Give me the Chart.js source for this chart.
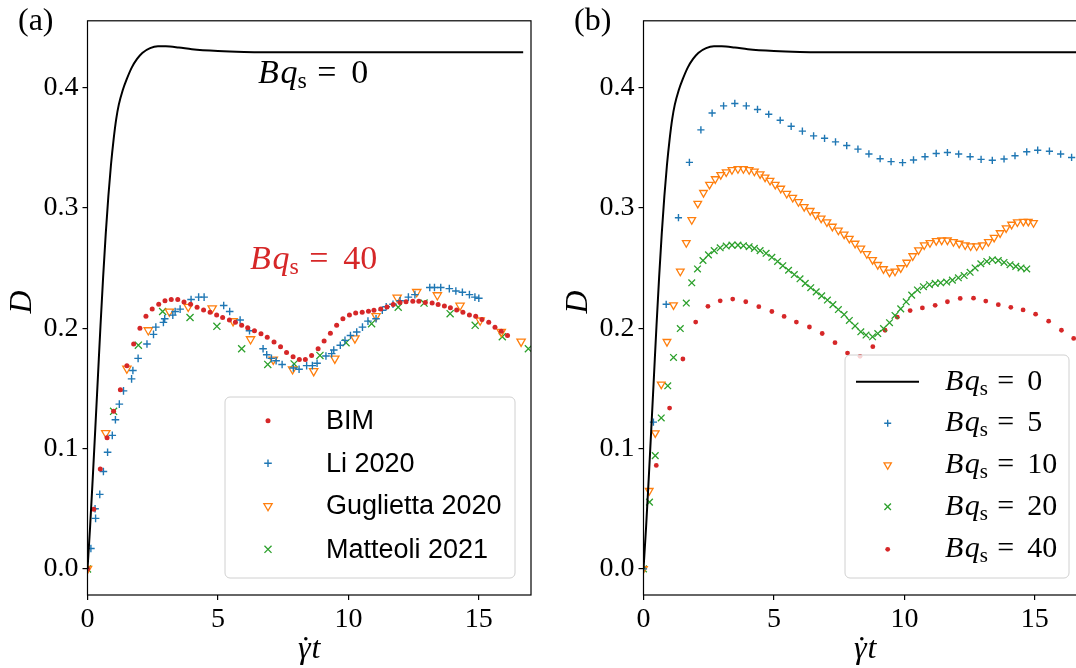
<!DOCTYPE html>
<html>
<head>
<meta charset="utf-8">
<script src="https://cdn.jsdelivr.net/npm/chart.js@4.4.1/dist/chart.umd.min.js"></script>
<style>
  html, body { margin: 0; padding: 0; background: #fff; overflow: hidden; }
  #wrap { position: relative; width: 1076px; height: 668px; overflow: hidden; }
  canvas { position: absolute; top: 0; }
  #c1 { left: 0; }
  #c2 { left: 556px; }
</style>
</head>
<body>
<div id="wrap">
  <canvas id="c1" width="545" height="668"></canvas>
  <canvas id="c2" width="545" height="668"></canvas>
</div>
<script>
// Drop deformation D vs strain (gamma-dot t)

// clean interface, Bq_s = 0 (solid line, both panels)
const cleanT = [0, 0.1, 0.2, 0.3, 0.4, 0.5, 0.6, 0.7, 0.8, 0.9, 1.0, 1.1, 1.2, 1.35, 1.5, 1.7, 1.9, 2.1, 2.4, 2.7, 3.0, 3.5, 4.0, 5.0, 6.0, 8.0, 10.0, 13.0, 16.7];
const cleanD = [0, 0.035, 0.075, 0.117, 0.16, 0.203, 0.243, 0.279, 0.31, 0.336, 0.357, 0.374, 0.386, 0.398, 0.407, 0.417, 0.424, 0.429, 0.433, 0.4345, 0.4345, 0.4335, 0.432, 0.4305, 0.4298, 0.4295, 0.4295, 0.4295, 0.4295];

// panel (a): Bq_s = 40, BIM against literature
const bimT = [0, 0.24, 0.49, 0.75, 1.0, 1.26, 1.51, 1.77, 2.01, 2.24, 2.48, 2.73, 2.97, 3.21, 3.46, 3.70, 3.95, 4.20, 4.45, 4.70, 4.95, 5.18, 5.44, 5.67, 5.91, 6.14, 6.40, 6.65, 6.89, 7.15, 7.40, 7.63, 7.88, 8.12, 8.35, 8.59, 8.84, 9.07, 9.31, 9.55, 9.79, 10.04, 10.28, 10.53, 10.77, 10.98, 11.24, 11.48, 11.72, 11.98, 12.21, 12.47, 12.70, 12.95, 13.21, 13.44, 13.68, 13.91, 14.15, 14.39, 14.64, 14.88, 15.12, 15.38, 15.62, 15.86, 16.10];
const bimD = [0, 0.0495, 0.083, 0.109, 0.131, 0.149, 0.169, 0.187, 0.200, 0.210, 0.216, 0.220, 0.223, 0.224, 0.224, 0.222, 0.220, 0.2175, 0.2153, 0.2134, 0.211, 0.209, 0.207, 0.205, 0.2025, 0.2006, 0.198, 0.1955, 0.1925, 0.1886, 0.1846, 0.180, 0.1764, 0.174, 0.1742, 0.1775, 0.183, 0.1895, 0.196, 0.2025, 0.2079, 0.2112, 0.2128, 0.2134, 0.2142, 0.215, 0.216, 0.2177, 0.2199, 0.2215, 0.2221, 0.2226, 0.2226, 0.2215, 0.221, 0.2199, 0.2185, 0.2172, 0.2153, 0.2134, 0.2112, 0.2101, 0.2074, 0.205, 0.2009, 0.1976, 0.1941];

const liT = [0.13, 0.29, 0.31, 0.47, 0.61, 0.77, 0.95, 1.07, 1.22, 1.38, 1.69, 1.74, 1.94, 2.28, 2.53, 2.62, 2.91, 2.96, 3.27, 3.36, 3.55, 3.97, 4.26, 4.47, 5.22, 5.45, 5.85, 6.21, 6.73, 6.87, 7.05, 7.23, 7.46, 7.89, 8.11, 8.40, 8.62, 8.80, 9.14, 9.36, 9.44, 9.69, 9.87, 10.08, 10.32, 10.54, 10.75, 11.06, 11.30, 11.45, 11.71, 11.98, 12.30, 12.55, 13.12, 13.30, 13.54, 13.87, 14.12, 14.37, 14.64, 14.85, 15.00];
const liD = [0.017, 0.050, 0.042, 0.062, 0.081, 0.097, 0.111, 0.124, 0.137, 0.148, 0.158, 0.165, 0.175, 0.187, 0.195, 0.201, 0.205, 0.208, 0.211, 0.214, 0.216, 0.224, 0.226, 0.226, 0.219, 0.214, 0.207, 0.198, 0.183, 0.178, 0.175, 0.173, 0.170, 0.167, 0.166, 0.169, 0.169, 0.171, 0.177, 0.179, 0.182, 0.186, 0.190, 0.194, 0.197, 0.201, 0.206, 0.208, 0.215, 0.218, 0.220, 0.223, 0.226, 0.228, 0.234, 0.234, 0.234, 0.233, 0.231, 0.230, 0.228, 0.226, 0.225];

const gugT = [0, 0.70, 1.51, 2.33, 3.14, 3.86, 4.78, 5.58, 6.25, 7.12, 7.86, 8.67, 9.48, 10.25, 11.06, 11.87, 12.62, 13.41, 14.28, 15.05, 15.86, 16.62];
const gugD = [0, 0.113, 0.1666, 0.1985, 0.214, 0.218, 0.2167, 0.206, 0.191, 0.174, 0.166, 0.1645, 0.1749, 0.1917, 0.2102, 0.2257, 0.2303, 0.2276, 0.2189, 0.2066, 0.1971, 0.189];

const matT = [0, 1.0, 1.95, 2.88, 3.93, 4.96, 5.91, 6.91, 7.92, 8.91, 9.91, 10.89, 11.91, 12.90, 13.90, 14.86, 15.90, 16.90];
const matD = [0, 0.131, 0.186, 0.214, 0.209, 0.2017, 0.183, 0.170, 0.1704, 0.1775, 0.1881, 0.2039, 0.2175, 0.221, 0.2122, 0.2025, 0.193, 0.183];

// panel (b): BIM for increasing Bq_s
const bq5T = [0, 0.38, 0.87, 1.34, 1.76, 2.20, 2.63, 3.07, 3.50, 3.94, 4.37, 4.80, 5.24, 5.66, 6.09, 6.52, 6.94, 7.36, 7.79, 8.22, 8.64, 9.07, 9.49, 9.93, 10.35, 10.79, 11.22, 11.65, 12.08, 12.52, 12.94, 13.37, 13.82, 14.24, 14.69, 15.11, 15.56, 15.99, 16.41];
const bq5D = [0, 0.122, 0.220, 0.292, 0.338, 0.365, 0.379, 0.385, 0.387, 0.385, 0.382, 0.378, 0.373, 0.368, 0.364, 0.360, 0.358, 0.355, 0.352, 0.349, 0.345, 0.341, 0.3386, 0.3378, 0.340, 0.3427, 0.3454, 0.3462, 0.3449, 0.3427, 0.3405, 0.3397, 0.3408, 0.3435, 0.3468, 0.3481, 0.3473, 0.3449, 0.3421];

const bq10T = [0, 0.22, 0.45, 0.68, 0.90, 1.15, 1.41, 1.64, 1.85, 2.08, 2.30, 2.53, 2.75, 2.96, 3.17, 3.39, 3.62, 3.83, 4.05, 4.25, 4.47, 4.66, 4.85, 5.05, 5.26, 5.49, 5.72, 5.94, 6.16, 6.39, 6.60, 6.81, 7.03, 7.24, 7.47, 7.69, 7.89, 8.11, 8.33, 8.56, 8.78, 8.98, 9.20, 9.43, 9.64, 9.86, 10.09, 10.32, 10.54, 10.76, 10.98, 11.22, 11.43, 11.65, 11.88, 12.10, 12.33, 12.54, 12.77, 12.99, 13.22, 13.44, 13.67, 13.90, 14.11, 14.33, 14.56, 14.75, 14.95];
const bq10D = [0, 0.065, 0.113, 0.1535, 0.1889, 0.2194, 0.2474, 0.2711, 0.2902, 0.3038, 0.3128, 0.3196, 0.3242, 0.3277, 0.3299, 0.3318, 0.3326, 0.3326, 0.3318, 0.3305, 0.3283, 0.3256, 0.3228, 0.3196, 0.3163, 0.312, 0.3087, 0.3052, 0.3011, 0.2978, 0.2943, 0.2915, 0.2883, 0.2847, 0.2815, 0.2782, 0.2747, 0.2706, 0.2665, 0.2619, 0.257, 0.2529, 0.2494, 0.2466, 0.2474, 0.2502, 0.2548, 0.2602, 0.2651, 0.2692, 0.2711, 0.2728, 0.2733, 0.2733, 0.2719, 0.2706, 0.2692, 0.2684, 0.2684, 0.2692, 0.2719, 0.2755, 0.2793, 0.2834, 0.2864, 0.2883, 0.2888, 0.2888, 0.2877];

const bq20T = [0, 0.23, 0.45, 0.68, 0.93, 1.15, 1.41, 1.64, 1.85, 2.07, 2.28, 2.49, 2.71, 2.94, 3.17, 3.39, 3.62, 3.83, 4.05, 4.25, 4.47, 4.70, 4.92, 5.14, 5.34, 5.56, 5.78, 6.00, 6.20, 6.41, 6.62, 6.83, 7.05, 7.26, 7.47, 7.69, 7.89, 8.11, 8.33, 8.53, 8.78, 8.98, 9.20, 9.43, 9.64, 9.86, 10.07, 10.28, 10.50, 10.73, 10.96, 11.18, 11.39, 11.62, 11.84, 12.07, 12.29, 12.52, 12.71, 12.93, 13.16, 13.37, 13.60, 13.82, 14.05, 14.27, 14.47, 14.69];
const bq20D = [0, 0.0555, 0.0942, 0.1255, 0.1522, 0.1758, 0.1998, 0.221, 0.2379, 0.2494, 0.2564, 0.2611, 0.2646, 0.267, 0.2684, 0.2692, 0.2692, 0.2687, 0.2679, 0.2665, 0.2646, 0.2624, 0.2591, 0.2556, 0.2521, 0.2483, 0.2447, 0.2412, 0.2374, 0.2338, 0.2303, 0.227, 0.2235, 0.2197, 0.2156, 0.2115, 0.2066, 0.202, 0.1971, 0.1944, 0.193, 0.1957, 0.1998, 0.2047, 0.2107, 0.2162, 0.2221, 0.2276, 0.2319, 0.2346, 0.2363, 0.2374, 0.2379, 0.2385, 0.2401, 0.242, 0.2439, 0.2466, 0.2502, 0.2537, 0.2556, 0.257, 0.2564, 0.2548, 0.2529, 0.2515, 0.2502, 0.2494];

const bq40T = [0, 0.49, 1.00, 1.51, 2.00, 2.47, 2.94, 3.42, 3.92, 4.42, 4.92, 5.39, 5.86, 6.36, 6.85, 7.34, 7.82, 8.30, 8.79, 9.26, 9.73, 10.22, 10.69, 11.18, 11.65, 12.14, 12.65, 13.12, 13.60, 14.08, 14.55, 15.03, 15.53, 16.02, 16.49];
const bq40D = [0, 0.086, 0.1337, 0.1745, 0.2052, 0.2183, 0.2229, 0.2243, 0.2221, 0.218, 0.214, 0.2099, 0.2052, 0.2011, 0.1957, 0.1881, 0.1794, 0.1767, 0.1848, 0.1984, 0.2093, 0.2148, 0.217, 0.2191, 0.2221, 0.2249, 0.2251, 0.2227, 0.2197, 0.2175, 0.2153, 0.2118, 0.206, 0.1984, 0.1916];

const xTicks = [0, 5, 10, 15];
const yTicks = [0, 0.1, 0.2, 0.3, 0.4];
const litLabels = ['BIM', 'Li 2020', 'Guglietta 2020', 'Matteoli 2021'];
const bqLabels = ['0', '5', '10', '20', '40'];

const BLUE = '#1f77b4', ORANGE = '#ff7f0e', GREEN = '#2ca02c', RED = '#d62728';
const serif = '"Liberation Serif", "Times New Roman", serif';
const sans = '"Liberation Sans", Arial, sans-serif';

const pts = (xs, ys) => xs.map((x, i) => ({ x: x, y: ys[i] }));

// marker look shared by datasets and the hand-drawn legends
const styles = {
  dot:  { pointStyle: 'circle', r: 2.5, lw: 0 },
  plus: { pointStyle: 'cross', r: 3.8, lw: 1.4 },
  tri:  { pointStyle: 'triangle', r: 4.8, lw: 1.3, rot: 180 },
  x:    { pointStyle: 'crossRot', r: 5.0, lw: 1.3 }
};

function markSet(xs, ys, kind, color, r) {
  const s = styles[kind];
  return {
    data: pts(xs, ys),
    showLine: false,
    pointStyle: s.pointStyle,
    pointRadius: r || s.r,
    pointRotation: s.rot || 0,
    pointBorderWidth: s.lw,
    pointBorderColor: color,
    pointBackgroundColor: kind === 'tri' ? 'rgba(255,255,255,0)' : color
  };
}

function lineSet(xs, ys) {
  return {
    data: pts(xs, ys),
    showLine: true,
    borderColor: '#000',
    borderWidth: 2,
    pointRadius: 0,
    cubicInterpolationMode: 'monotone'
  };
}

function marker(ctx, kind, x, y, r, color) {
  const lw = styles[kind].lw;
  ctx.save();
  ctx.strokeStyle = color;
  ctx.fillStyle = color;
  ctx.lineWidth = lw;
  ctx.beginPath();
  if (kind === 'dot') {
    ctx.arc(x, y, r, 0, Math.PI * 2);
    ctx.fill();
  } else if (kind === 'plus') {
    ctx.moveTo(x - r, y); ctx.lineTo(x + r, y);
    ctx.moveTo(x, y - r); ctx.lineTo(x, y + r);
    ctx.stroke();
  } else if (kind === 'x') {
    const d = r * Math.SQRT1_2;
    ctx.moveTo(x - d, y - d); ctx.lineTo(x + d, y + d);
    ctx.moveTo(x - d, y + d); ctx.lineTo(x + d, y - d);
    ctx.stroke();
  } else if (kind === 'tri') {
    ctx.moveTo(x, y + r);
    ctx.lineTo(x - r * 0.866, y - r / 2);
    ctx.lineTo(x + r * 0.866, y - r / 2);
    ctx.closePath();
    ctx.stroke();
  }
  ctx.restore();
}

// "Bq_s = n" set piece by piece (italic B q, roman subscript s)
function drawBq(ctx, x, y, val, fs, color) {
  ctx.save();
  ctx.fillStyle = color;
  ctx.textAlign = 'left';
  ctx.textBaseline = 'alphabetic';
  ctx.font = 'italic ' + fs + 'px ' + serif;
  ctx.fillText('B', x, y);
  ctx.fillText('q', x + 0.66 * fs, y);
  ctx.font = Math.round(fs * 0.7) + 'px ' + serif;
  ctx.fillText('s', x + 1.16 * fs, y + 0.16 * fs);
  ctx.font = fs + 'px ' + serif;
  ctx.fillText('=', x + 1.74 * fs, y);
  ctx.fillText(val, x + 2.74 * fs, y);
  ctx.restore();
}

// gamma with an overdot, then t
function drawGammaDotT(ctx, cx, y, fs) {
  ctx.save();
  ctx.fillStyle = '#000';
  ctx.textAlign = 'left';
  ctx.textBaseline = 'alphabetic';
  ctx.font = 'italic ' + fs + 'px ' + serif;
  const wg = ctx.measureText('\u03b3').width;
  const wt = ctx.measureText('t').width;
  const x0 = cx - (wg + wt + 1) / 2;
  ctx.fillText('\u03b3', x0, y);
  ctx.fillText('t', x0 + wg + 1, y);
  ctx.beginPath();
  ctx.arc(x0 + wg * 0.62, y - fs * 0.6, fs * 0.055, 0, Math.PI * 2);
  ctx.fill();
  ctx.restore();
}

const decor = {
  id: 'decor',
  afterDraw(chart, args, o) {
    const ctx = chart.ctx, a = chart.chartArea;
    ctx.save();
    ctx.strokeStyle = '#000';
    ctx.lineWidth = 1.2;
    ctx.strokeRect(a.left, a.top, a.right - a.left, a.bottom - a.top);

    ctx.fillStyle = '#000';
    ctx.textBaseline = 'alphabetic';
    ctx.textAlign = 'left';
    ctx.font = '32px ' + serif;
    ctx.fillText(o.label, 18, 30);

    drawGammaDotT(ctx, (a.left + a.right) / 2, 658, 32);
    ctx.font = 'italic 32px ' + serif;
    ctx.textAlign = 'center';
    ctx.save();
    ctx.translate(31, 302);
    ctx.rotate(-Math.PI / 2);
    ctx.fillText('D', 0, 0);
    ctx.restore();

    (o.notes || []).forEach(n => drawBq(ctx, n.x, n.y, n.val, n.fs, n.color));

    const L = o.legend;
    ctx.beginPath();
    ctx.roundRect(L.x, L.y, L.w, L.h, 5);
    ctx.fillStyle = 'rgba(255,255,255,0.8)';
    ctx.fill();
    ctx.strokeStyle = '#d0d0d0';
    ctx.lineWidth = 1;
    ctx.stroke();
    L.items.forEach((it, i) => {
      const y = L.rows[i];
      if (it.kind === 'line') {
        ctx.beginPath();
        ctx.moveTo(L.lineX[0], y);
        ctx.lineTo(L.lineX[1], y);
        ctx.strokeStyle = '#000';
        ctx.lineWidth = 2;
        ctx.stroke();
      } else {
        marker(ctx, it.kind, L.markX, y, it.r || styles[it.kind].r, it.color);
      }
      if (L.math) {
        drawBq(ctx, L.textX, y + 8, it.text, L.fs, '#000');
      } else {
        ctx.fillStyle = '#000';
        ctx.textAlign = 'left';
        ctx.textBaseline = 'middle';
        ctx.font = L.fs + 'px ' + sans;
        ctx.fillText(it.text, L.textX, y + 1);
      }
    });
    ctx.restore();
  }
};

function axes() {
  const tickFont = { family: serif, size: 28 };
  const grid = { drawOnChartArea: false, drawTicks: true, tickLength: 5, color: '#000', lineWidth: 1.2 };
  return {
    x: {
      type: 'linear', min: 0, max: 17,
      afterFit: s => { s.height = 73; },
      afterBuildTicks: s => { s.ticks = xTicks.map(v => ({ value: v })); },
      ticks: { font: tickFont, color: '#000', padding: 3, maxRotation: 0, autoSkip: false, callback: v => String(v) },
      grid: grid,
      border: { display: false }
    },
    y: {
      type: 'linear', min: -0.0217, max: 0.4557,
      afterFit: s => { s.width = 87.5; },
      afterBuildTicks: s => { s.ticks = yTicks.map(v => ({ value: v })); },
      ticks: { font: tickFont, color: '#000', padding: 4, callback: v => v.toFixed(1) },
      grid: grid,
      border: { display: false }
    }
  };
}

function baseOptions(decorOpts) {
  return {
    responsive: false,
    animation: false,
    devicePixelRatio: 1,
    events: [],
    layout: { padding: { top: 9.5, right: 14, left: 0, bottom: 0 } },
    scales: axes(),
    plugins: { legend: { display: false }, tooltip: { enabled: false }, decor: decorOpts }
  };
}

const chartA = new Chart(document.getElementById('c1'), {
  type: 'scatter',
  data: {
    datasets: [
      lineSet(cleanT, cleanD),
      markSet(bimT, bimD, 'dot', RED),
      markSet(liT, liD, 'plus', BLUE),
      markSet(gugT, gugD, 'tri', ORANGE),
      markSet(matT, matD, 'x', GREEN)
    ]
  },
  options: baseOptions({
    label: '(a)',
    notes: [
      { x: 258, y: 83, val: '0', fs: 34, color: '#000' },
      { x: 250, y: 269, val: '40', fs: 34, color: RED }
    ],
    legend: {
      x: 225, y: 397, w: 290, h: 181,
      rows: [420.7, 463.3, 506, 549.3],
      markX: 268, textX: 326, fs: 27, math: false,
      items: [
        { kind: 'dot', color: RED, text: litLabels[0] },
        { kind: 'plus', color: BLUE, text: litLabels[1] },
        { kind: 'tri', color: ORANGE, text: litLabels[2] },
        { kind: 'x', color: GREEN, text: litLabels[3] }
      ]
    }
  }),
  plugins: [decor]
});

const chartB = new Chart(document.getElementById('c2'), {
  type: 'scatter',
  data: {
    datasets: [
      lineSet(cleanT, cleanD),
      markSet(bq5T, bq5D, 'plus', BLUE, 3.6),
      markSet(bq10T, bq10D, 'tri', ORANGE, 4.4),
      markSet(bq20T, bq20D, 'x', GREEN, 4.7),
      markSet(bq40T, bq40D, 'dot', RED, 2.4)
    ]
  },
  options: baseOptions({
    label: '(b)',
    legend: {
      x: 289, y: 355, w: 224, h: 223,
      rows: [381.7, 423.3, 465, 506.7, 549.3],
      lineX: [300, 363], markX: 331.7, textX: 389, fs: 30, math: true,
      items: [
        { kind: 'line', text: bqLabels[0] },
        { kind: 'plus', color: BLUE, text: bqLabels[1], r: 3.5 },
        { kind: 'tri', color: ORANGE, text: bqLabels[2], r: 4.2 },
        { kind: 'x', color: GREEN, text: bqLabels[3], r: 4.6 },
        { kind: 'dot', color: RED, text: bqLabels[4], r: 2.4 }
      ]
    }
  }),
  plugins: [decor]
});
</script>
</body>
</html>
